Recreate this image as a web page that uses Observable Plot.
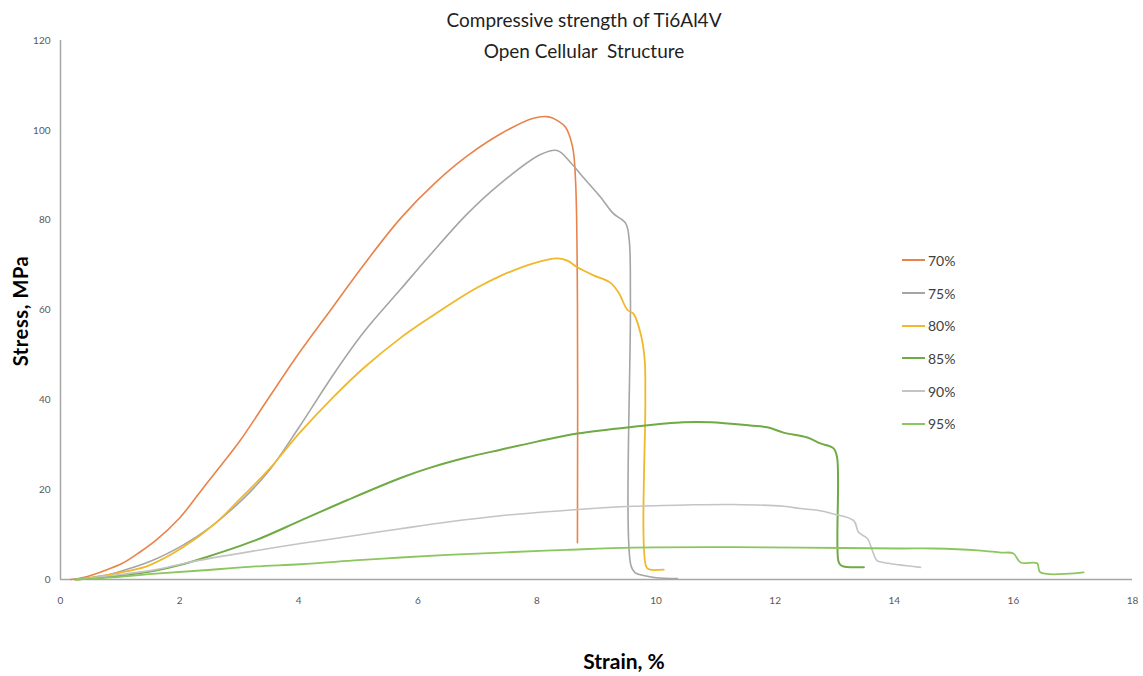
<!DOCTYPE html>
<html>
<head>
<meta charset="utf-8">
<script src="https://cdn.jsdelivr.net/npm/d3@7"></script>
<script src="https://cdn.jsdelivr.net/npm/@observablehq/plot@0.6"></script>
<style>
  html, body { margin: 0; padding: 0; background: #fff; }
  #wrap { position: relative; width: 1143px; height: 676px; font-family: Lato, "Open Sans", sans-serif; }
  #title { position: absolute; left: 334px; width: 500px; top: 4px; text-align: center; font-size: 19px; line-height: 31px; color: #1f1f1f; }
  #legend { position: absolute; left: 902px; top: 244px; font-size: 14px; color: #404040; }
  .row { display: flex; align-items: center; height: 32.7px; }
  .sw { width: 23px; height: 0; border-top: 2px solid; margin-right: 3px; }
  #ylab { position: absolute; left: 20px; top: 311px; transform: translate(-50%, -50%) rotate(-90deg); font-weight: bold; font-size: 20px; letter-spacing: 0.6px; color: #000; white-space: nowrap; }
  #xlab { position: absolute; left: 624px; top: 660px; transform: translate(-50%, -50%); font-weight: bold; font-size: 21px; color: #000; white-space: nowrap; }
</style>
</head>
<body>
<div id="wrap">
  <div id="chart"></div>
  <div id="title">Compressive strength of Ti6Al4V<br>Open Cellular&nbsp; Structure</div>
  <div id="legend"></div>
  <div id="ylab">Stress, MPa</div>
  <div id="xlab">Strain, %</div>
</div>
<script>
const seriesNames = ["70%", "75%", "80%", "85%", "90%", "95%"];
const seriesColors = ["#E9834A", "#A5A5A5", "#F0B82A", "#6FAA45", "#C4C4C4", "#8CC65E"];

const xTicks = [0, 2, 4, 6, 8, 10, 12, 14, 16, 18];
const yTicks = [0, 20, 40, 60, 80, 100, 120];

const strain70 = [0.17, 0.4, 0.7, 1.04, 1.3, 1.6, 2.0, 2.35, 2.7, 3.02, 3.47, 4.0, 4.58, 5.1, 5.71, 6.3, 6.83, 7.4, 7.94, 8.2, 8.34, 8.48, 8.6, 8.65, 8.68, 8.68];
const stress70 = [0, 0.5, 1.8, 3.6, 5.8, 8.7, 13.7, 19.6, 25.5, 31, 39.9, 50.3, 60.8, 70.2, 80.4, 88.4, 94.3, 99.3, 102.7, 103, 102.2, 100.7, 96.2, 88.2, 62, 8.2];

const strain75 = [0.25, 0.7, 1.0, 1.5, 2.05, 2.5, 3.07, 3.5, 4.0, 4.58, 5.1, 5.71, 6.21, 6.83, 7.4, 8.06, 8.34, 8.56, 8.78, 9.07, 9.28, 9.49, 9.55, 9.57, 9.58, 9.65, 9.79, 10.0, 10.36];
const stress75 = [0, 0.8, 1.8, 4, 7.6, 11.5, 18, 24.2, 33.8, 45.6, 55.2, 64.6, 72.3, 81.4, 88.3, 94.6, 95.5, 92.9, 89.5, 85.1, 81.5, 79.3, 75.5, 62, 3, 1.5, 0.9, 0.4, 0.2];

const strain80 = [0.3, 0.76, 1.1, 1.48, 2.05, 2.6, 3.02, 3.5, 4.0, 4.58, 5.1, 5.71, 6.21, 6.6, 7.0, 7.39, 7.94, 8.34, 8.51, 8.68, 8.95, 9.23, 9.37, 9.52, 9.62, 9.74, 9.81, 9.82, 9.84, 9.9, 10.13];
const stress80 = [0, 0.9, 1.8, 3.1, 7.1, 12.5, 18, 24.5, 32.4, 40.6, 47.2, 53.8, 58.4, 61.8, 65, 67.6, 70.4, 71.5, 71, 69.5, 67.7, 66.1, 63.9, 60, 59.2, 54.8, 48.8, 39.9, 2.7, 2.2, 2.2];

const strain85 = [0.25, 1.0, 1.6, 2.0, 2.43, 3.27, 4.03, 4.82, 5.71, 6.21, 6.8, 7.39, 8.0, 8.68, 9.62, 10.46, 10.91, 11.58, 11.87, 12.14, 12.54, 12.76, 12.98, 13.04, 13.06, 13.1, 13.15, 13.49];
const stress85 = [0, 0.9, 2.0, 3.2, 4.9, 8.7, 13.1, 17.7, 22.6, 24.9, 27.1, 28.9, 30.7, 32.5, 34, 35, 35, 34.3, 33.9, 32.7, 31.6, 30.3, 29.2, 27.2, 4.2, 3.2, 2.9, 2.7];

const strain90 = [0.25, 1.0, 1.6, 2.15, 3.27, 4.03, 5.0, 5.71, 6.5, 7.39, 8.68, 9.62, 10.5, 11.3, 12.14, 12.42, 12.71, 12.98, 13.32, 13.4, 13.55, 13.63, 13.71, 13.82, 14.44];
const stress90 = [0, 1.1, 2.2, 3.8, 6.4, 8.0, 9.9, 11.3, 12.8, 14.2, 15.6, 16.3, 16.6, 16.7, 16.3, 15.8, 15.4, 14.6, 13.1, 10.5, 9.1, 6.5, 4.2, 3.8, 2.7];

const strain95 = [0.25, 1.0, 1.6, 2.35, 3.27, 4.03, 5.0, 5.71, 6.5, 7.39, 8.5, 9.62, 11.3, 12.42, 14.1, 14.66, 15.4, 15.79, 16.0, 16.12, 16.4, 16.45, 17.18];
const stress95 = [0, 0.6, 1.3, 2.0, 2.9, 3.4, 4.3, 4.9, 5.5, 6.0, 6.6, 7.1, 7.2, 7.1, 6.9, 6.9, 6.5, 6.0, 5.8, 3.8, 3.6, 1.6, 1.6];

const strains = [strain70, strain75, strain80, strain85, strain90, strain95];
const stresses = [stress70, stress75, stress80, stress85, stress90, stress95];
const widths = [1.6, 1.6, 1.8, 2, 1.6, 1.8];

const rows = [];
seriesNames.forEach((name, i) => {
  strains[i].forEach((s, j) => rows.push({series: name, strain: s, stress: stresses[i][j]}));
});

const chart = Plot.plot({
  width: 1143,
  height: 676,
  marginLeft: 60,
  marginRight: 11,
  marginTop: 40,
  marginBottom: 97,
  style: {fontFamily: "Lato, 'Open Sans', sans-serif", background: "#fff"},
  x: {domain: [0, 18], ticks: xTicks, label: null},
  y: {domain: [0, 120], ticks: yTicks, label: null},
  color: {domain: seriesNames, range: seriesColors},
  marks: [
    Plot.axisX({ticks: xTicks, tickSize: 0, tickPadding: 17, fontSize: 10, fill: "#595959", label: null}),
    Plot.axisY({ticks: yTicks, tickSize: 0, tickPadding: 10, fontSize: 10, fill: "#595959", label: null}),
    Plot.ruleX([0], {stroke: "#A6A6A6", strokeWidth: 1.5}),
    Plot.ruleY([0], {stroke: "#A6A6A6", strokeWidth: 1.5}),
    ...seriesNames.map((name, i) =>
      Plot.line(rows.filter(d => d.series === name), {
        x: "strain", y: "stress", stroke: seriesColors[i], strokeWidth: widths[i],
        strokeLinejoin: "round", curve: "catmull-rom"
      })
    )
  ]
});
document.getElementById("chart").appendChild(chart);

const legend = document.getElementById("legend");
seriesNames.forEach((name, i) => {
  const row = document.createElement("div");
  row.className = "row";
  const sw = document.createElement("div");
  sw.className = "sw";
  sw.style.borderTopColor = seriesColors[i];
  const t = document.createElement("span");
  t.textContent = name;
  row.appendChild(sw);
  row.appendChild(t);
  legend.appendChild(row);
});
</script>
</body>
</html>
